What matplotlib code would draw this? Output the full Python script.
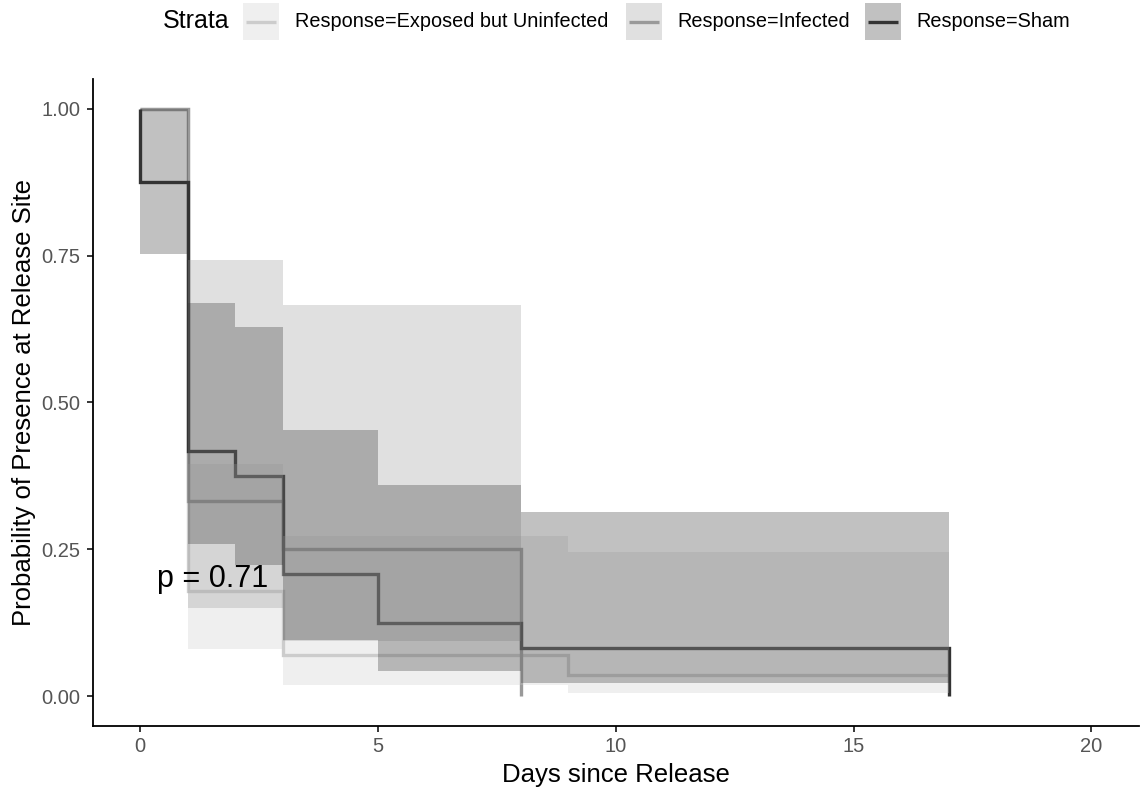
import numpy as np
import matplotlib
matplotlib.use('Agg')
import matplotlib.pyplot as plt
from matplotlib.patches import Rectangle
from matplotlib.lines import Line2D

plt.rcParams['font.family'] = ['Liberation Sans', 'DejaVu Sans']

## Kaplan-Meier curves and 95% bands
strata = ['Response=Exposed but Uninfected', 'Response=Infected', 'Response=Sham']
colors = ['#cccccc', '#999999', '#333333']

exposed_time = [0, 1, 3, 9, 17]
exposed_surv = [1.000, 0.179, 0.071, 0.036, 0.036]
exposed_lower = [1.000, 0.081, 0.019, 0.005, 0.005]
exposed_upper = [1.000, 0.395, 0.272, 0.245, 0.245]

infected_time = [0, 1, 3, 8]
infected_surv = [1.000, 0.333, 0.250, 0.000]
infected_lower = [1.000, 0.150, 0.094, 0.094]
infected_upper = [1.000, 0.742, 0.666, 0.666]

sham_time = [0, 0, 1, 2, 3, 5, 8, 17]
sham_surv = [1.000, 0.875, 0.417, 0.375, 0.208, 0.125, 0.083, 0.000]
sham_lower = [1.000, 0.752, 0.260, 0.224, 0.096, 0.043, 0.022, 0.022]
sham_upper = [1.000, 1.000, 0.669, 0.629, 0.454, 0.360, 0.314, 0.314]

pval_text = 'p = 0.71'
xticks = [0, 5, 10, 15, 20]
yticks = [0.00, 0.25, 0.50, 0.75, 1.00]

curves = [
    (exposed_time, exposed_surv, exposed_lower, exposed_upper),
    (infected_time, infected_surv, infected_lower, infected_upper),
    (sham_time, sham_surv, sham_lower, sham_upper),
]

LW = 2.4
ALPHA = 0.3

fig = plt.figure(figsize=(11.41, 7.88), dpi=100)
ax = fig.add_axes([0.0812, 0.0791, 0.9170, 0.8203])

## step lines first, bands drawn on top (as survminer does)
for (t, s, lo, up), c in zip(curves, colors):
    ax.step(t, s, where='post', color=c, lw=LW, solid_capstyle='butt',
            solid_joinstyle='miter', zorder=2)
for (t, s, lo, up), c in zip(curves, colors):
    ax.fill_between(t, lo, up, step='post', color=c, alpha=ALPHA, lw=0, zorder=3)

ax.text(0.35, 0.2, pval_text, fontsize=22, ha='left', va='center', zorder=4)

ax.set_xlim(-1, 21)
ax.set_ylim(-0.05, 1.05)
ax.set_xticks(xticks)
ax.set_xticklabels([str(x) for x in xticks])
ax.set_yticks(yticks)
ax.set_yticklabels(['%.2f' % y for y in yticks])
for sp in ['top', 'right']:
    ax.spines[sp].set_visible(False)
for sp in ['left', 'bottom']:
    ax.spines[sp].set_linewidth(1.3)
ax.tick_params(direction='out', length=4, width=1.1, color='black',
               labelsize=14.5, labelcolor='#555555')
ax.tick_params(axis='x', pad=4)
ax.tick_params(axis='y', pad=5)
ax.set_xlabel('Days since Release', fontsize=18.5, labelpad=5)
ax.set_ylabel('Probability of Presence at Release Site', fontsize=18.5, labelpad=4)

## legend across the top, drawn by hand
W, H = 1141.0, 788.0
ycen = 1 - 21.5 / H
box = 36.0
fig.text(163 / W, ycen, 'Strata', fontsize=18, ha='left', va='center')
key_x = [243, 626, 865]
text_x = [295, 677, 916]
for kx, tx, lab, c in zip(key_x, text_x, strata, colors):
    fig.patches.append(Rectangle((kx / W, ycen - box / 2 / H), box / W, box / H,
                                 transform=fig.transFigure, facecolor=c,
                                 alpha=ALPHA, edgecolor='none'))
    fig.lines.append(Line2D([(kx + 3) / W, (kx + box - 3) / W], [ycen, ycen],
                            transform=fig.transFigure, color=c, lw=LW,
                            solid_capstyle='butt'))
    fig.text(tx / W, ycen, lab, fontsize=14.3, ha='left', va='center')

fig.savefig('out.png', dpi=100)
